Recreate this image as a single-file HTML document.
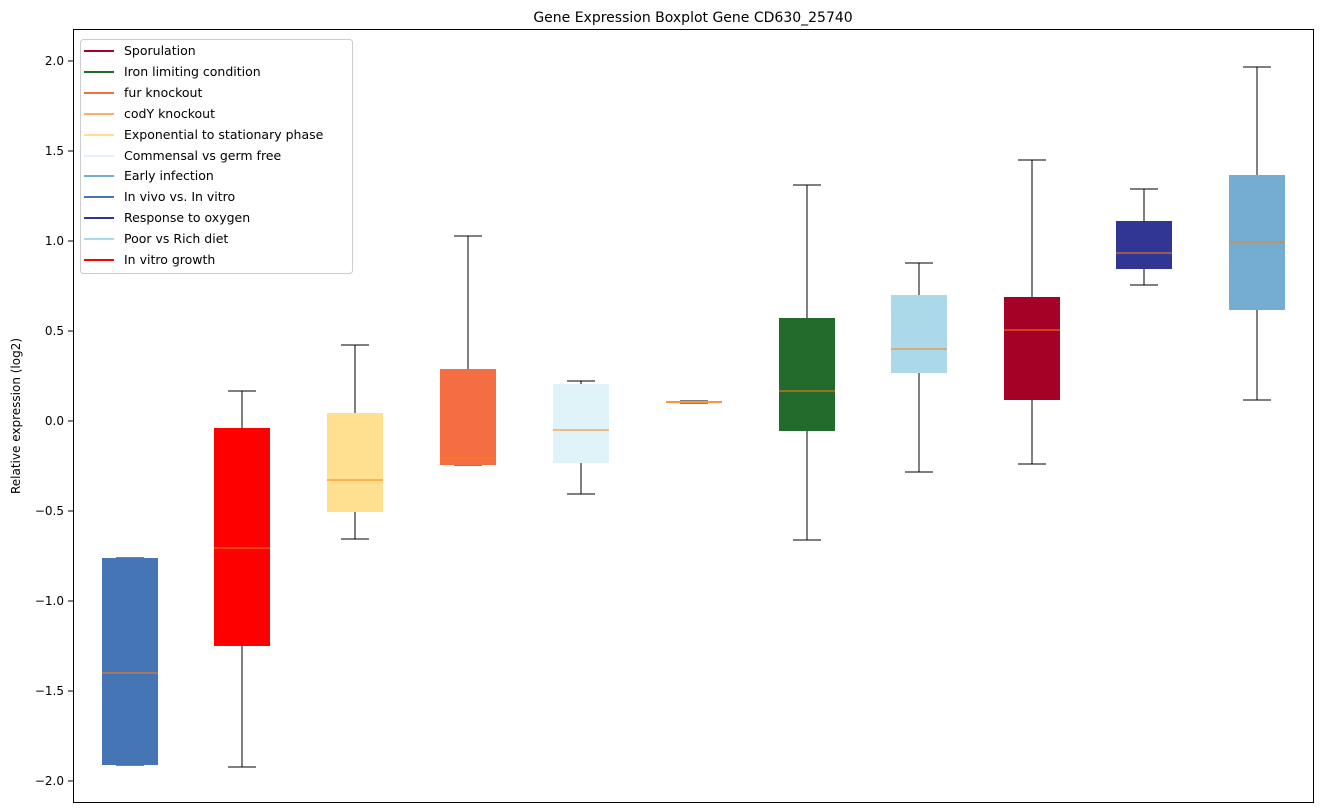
<!DOCTYPE html><html><head><style>body{margin:0;background:#fff}svg{display:block}text{font-family:"DejaVu Sans","Liberation Sans",sans-serif}</style></head><body>
<svg width="1322" height="812" xmlns="http://www.w3.org/2000/svg">
<text x="693" y="22" font-size="14" text-anchor="middle">Gene Expression Boxplot Gene CD630_25740</text>
<g font-size="12" text-anchor="end">
<line x1="68" x2="73" y1="61" y2="61" stroke="#000"/><text x="64" y="65">2.0</text>
<line x1="68" x2="73" y1="151" y2="151" stroke="#000"/><text x="64" y="155">1.5</text>
<line x1="68" x2="73" y1="241" y2="241" stroke="#000"/><text x="64" y="245">1.0</text>
<line x1="68" x2="73" y1="331" y2="331" stroke="#000"/><text x="64" y="335">0.5</text>
<line x1="68" x2="73" y1="421" y2="421" stroke="#000"/><text x="64" y="425">0.0</text>
<line x1="68" x2="73" y1="511" y2="511" stroke="#000"/><text x="64" y="515">−0.5</text>
<line x1="68" x2="73" y1="601" y2="601" stroke="#000"/><text x="64" y="605">−1.0</text>
<line x1="68" x2="73" y1="691" y2="691" stroke="#000"/><text x="64" y="695">−1.5</text>
<line x1="68" x2="73" y1="781" y2="781" stroke="#000"/><text x="64" y="785">−2.0</text>
</g>
<text transform="translate(20,416) rotate(-90)" font-size="12" text-anchor="middle">Relative expression (log2)</text>
<g stroke="#000" stroke-width="1" shape-rendering="crispEdges">
<path d="M116 558H144M116 765H144"/>
<path d="M242 391V428M228 391H256M242 646V767M228 767H256"/>
<path d="M355 345V413M341 345H369M355 512V539M341 539H369"/>
<path d="M468 236V369M454 236H482M454 465H482"/>
<path d="M581 381V384M567 381H595M581 463V494M567 494H595"/>
<path d="M680 401H708M680 403H708"/>
<path d="M807 185V318M793 185H821M807 431V540M793 540H821"/>
<path d="M919 263V295M905 263H933M919 373V472M905 472H933"/>
<path d="M1032 160V297M1018 160H1046M1032 400V464M1018 464H1046"/>
<path d="M1144 189V221M1130 189H1158M1144 269V285M1130 285H1158"/>
<path d="M1257 67V175M1243 67H1271M1257 310V400M1243 400H1271"/>
</g>
<g>
<rect x="102" y="558" width="56" height="207" fill="#4575b4"/>
<rect x="214" y="428" width="56" height="218" fill="#ff0000"/>
<rect x="327" y="413" width="56" height="99" fill="#fee090"/>
<rect x="440" y="369" width="56" height="96" fill="#f46d43"/>
<rect x="553" y="384" width="56" height="79" fill="#e0f3f8"/>
<rect x="666" y="401" width="56" height="2" fill="#fdae61"/>
<rect x="779" y="318" width="56" height="113" fill="#226b2d"/>
<rect x="891" y="295" width="56" height="78" fill="#abd9e9"/>
<rect x="1004" y="297" width="56" height="103" fill="#a50026"/>
<rect x="1116" y="221" width="56" height="48" fill="#313695"/>
<rect x="1229" y="175" width="56" height="135" fill="#74add1"/>
</g>
<g stroke="#ff7f0e" stroke-width="1" shape-rendering="crispEdges">
<path d="M102 673H158M214 548H270M327 480H383M440 458H496M553 430H609M666 402H722M779 391H835M891 349H947M1004 330H1060M1116 253H1172M1229 242H1285"/>
</g>
<rect x="73.5" y="29.5" width="1240" height="773" fill="none" stroke="#000"/>
<rect x="80.5" y="39.5" width="272" height="234" rx="3" fill="#fff" fill-opacity="0.8" stroke="#ccc"/>
<g stroke-width="2">
<line x1="84" x2="114" y1="51" y2="51" stroke="#a50026"/>
<line x1="84" x2="114" y1="72" y2="72" stroke="#226b2d"/>
<line x1="84" x2="114" y1="93" y2="93" stroke="#f46d43"/>
<line x1="84" x2="114" y1="114" y2="114" stroke="#fdae61"/>
<line x1="84" x2="114" y1="135" y2="135" stroke="#fee090"/>
<line x1="84" x2="114" y1="156" y2="156" stroke="#e0f3f8"/>
<line x1="84" x2="114" y1="176" y2="176" stroke="#74add1"/>
<line x1="84" x2="114" y1="197" y2="197" stroke="#4575b4"/>
<line x1="84" x2="114" y1="218" y2="218" stroke="#313695"/>
<line x1="84" x2="114" y1="239" y2="239" stroke="#abd9e9"/>
<line x1="84" x2="114" y1="260" y2="260" stroke="#ff0000"/>
</g>
<g font-size="12.5">
<text x="124" y="55">Sporulation</text>
<text x="124" y="76">Iron limiting condition</text>
<text x="124" y="97">fur knockout</text>
<text x="124" y="118">codY knockout</text>
<text x="124" y="139">Exponential to stationary phase</text>
<text x="124" y="160">Commensal vs germ free</text>
<text x="124" y="180">Early infection</text>
<text x="124" y="201">In vivo vs. In vitro</text>
<text x="124" y="222">Response to oxygen</text>
<text x="124" y="243">Poor vs Rich diet</text>
<text x="124" y="264">In vitro growth</text>
</g>
</svg></body></html>
